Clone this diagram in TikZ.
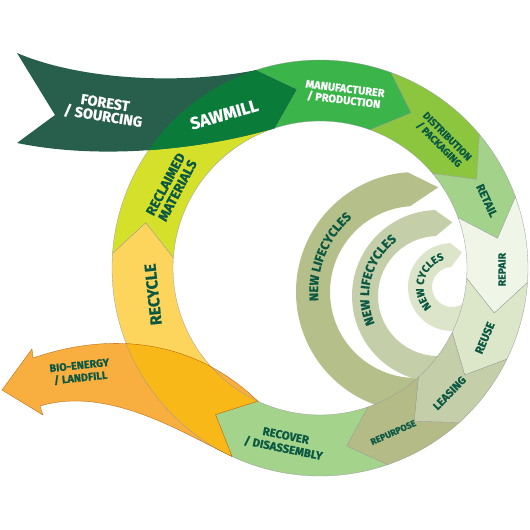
\documentclass[tikz,border=0pt]{standalone}
\usepackage{fontspec}
\setmainfont{Fira Sans}[BoldFeatures={FakeBold=0.6}]
\usetikzlibrary{decorations.text}

\definecolor{forest}{HTML}{285E4C}
\definecolor{sawmill}{HTML}{0B7B3A}
\definecolor{manuf}{HTML}{3BB54A}
\definecolor{distrib}{HTML}{8CC63F}
\definecolor{retail}{HTML}{A3D28B}
\definecolor{repair}{HTML}{EFF6E8}
\definecolor{reuse}{HTML}{DCE6C8}
\definecolor{leasing}{HTML}{C4CEA9}
\definecolor{repurpose}{HTML}{B4BB86}
\definecolor{recover}{HTML}{A4D48C}
\definecolor{recycle}{HTML}{FED55C}
\definecolor{golden}{HTML}{F8B918}
\definecolor{bioenergy}{HTML}{F9AE40}
\definecolor{reclaimed}{HTML}{D5E02A}
\definecolor{lifeA}{HTML}{B5BF89}
\definecolor{lifeB}{HTML}{C4CEA9}
\definecolor{lifeC}{HTML}{DCE5C9}
\definecolor{labelgreen}{HTML}{0B5843}

\def\rOut{208}
\def\rIn{147}
\def\rMid{180}
\def\tipShift{10.5}

\newcommand{\lblfont}[2]{\bfseries\fontsize{#1}{#2}\selectfont}

% ring segment: colour, start angle, end angle
\newcommand{\ringseg}[3]{%
  \filldraw[segline, fill=#1] (#2:\rOut) arc[start angle=#2, end angle=#3, radius=\rOut]
    -- ({#3-\tipShift}:\rMid) -- (#3:\rIn) arc[start angle=#3, end angle=#2, radius=\rIn]
    -- ({#2-\tipShift}:\rMid) -- cycle;}

% inner band: colour, centre, outer r, inner r, end angle, tip angle, tip r, hidden angle
\newcommand{\lifeband}[8]{%
  \fill[#1, shift={(#2)}] (#5:#3) arc[start angle=#5, end angle=#8, radius=#3]
    -- (#8:#4) arc[start angle=#8, end angle=#5, radius=#4] -- (#6:#7) -- cycle;}

\tikzset{
  segline/.style={draw=black!40, line width=0.3pt},
  lbl/.style={text=labelgreen, align=center, inner sep=0pt},
  lblw/.style={lbl, text=white},
  curvetext/.style={decorate, decoration={text along path, text align=center, text color=labelgreen, text={#1}}}
}

\begin{document}
\begin{tikzpicture}[x=1pt, y=1pt]
   \useasboundingbox (-320,-262) rectangle (210,268);

   % New lifecycles
   \lifeband{lifeA}{96,-24}{120}{86}{94}{78}{107}{285}
   \lifeband{lifeB}{118,-28}{86}{60}{92}{79}{75}{290}
   \lifeband{lifeC}{132,-19}{44}{20}{92}{74}{36}{330}

   % Ring
   \ringseg{reclaimed}{176}{108}
   \ringseg{recycle}{245}{176}
   \ringseg{manuf}{108}{70}
   \ringseg{distrib}{70}{40}
   \ringseg{retail}{40}{20}
   \ringseg{repair}{20}{-4}
   \ringseg{reuse}{-4}{-26}
   \ringseg{leasing}{-26}{-48}
   \ringseg{repurpose}{-48}{-71}
   \ringseg{recover}{-71}{-115}

   % Bio-energy arrow
   \def\bioarrow{(-115:\rIn) .. controls (-120,-77) and (-200,-60) .. (-287,-90)
      -- (-288,-81) -- (-318,-122) -- (-277,-147) -- (-280,-138)
      .. controls (-210,-117) and (-133,-167.5) .. (-115:\rOut) -- (-125.5:\rMid) -- cycle}
   \fill[bioenergy] \bioarrow;
   \begin{scope}
      \clip \bioarrow;
      \filldraw[golden, even odd rule, segline, fill=golden] (0,0) circle[radius=\rOut] (0,0) circle[radius=\rIn];
   \end{scope}
   \draw[draw=orange!70!black, line width=0.3pt] \bioarrow;

   % Forest banner
   \def\forestband{(-303,215) .. controls (-240,188) and (-140,183) .. (108:\rOut)
      -- (97.5:\rMid) -- (108:\rIn) .. controls (-120,118) and (-220,108) .. (-303,125)
      -- (-265,153) -- cycle}
   \fill[forest] \forestband;
   \begin{scope}
      \clip \forestband;
      \fill[sawmill, even odd rule] (0,0) circle[radius=\rOut] (0,0) circle[radius=\rIn];
   \end{scope}

   % Labels
   \node[lblw, rotate=-9, font=\lblfont{14.5}{13.5}] (forest) at (-216,158) {FOREST\\/ SOURCING};
   \node[lblw, rotate=16, font=\lblfont{17}{17}] (sawmill) at (122:181) {SAWMILL};
   \node[lblw, rotate=-7, font=\lblfont{11}{11.5}] (manuf) at (82:175) {MANUFACTURER\\/ PRODUCTION};
   \node[lbl, rotate=-45, font=\lblfont{10}{11.5}] (distrib) at (46:177) {DISTRIBUTION\\/ PACKAGING};
   \node[lbl, rotate=-65, font=\lblfont{11.5}{12}] (retail) at (22:180) {RETAIL};
   \node[lbl, rotate=90, font=\lblfont{10.5}{12}] (repair) at (-0.5:182) {REPAIR};
   \node[lbl, rotate=67, font=\lblfont{11.5}{12}] (reuse) at (-23:179) {REUSE};
   \node[lbl, rotate=46, font=\lblfont{11}{12}] (leasing) at (-44:180) {LEASING};
   \node[lbl, rotate=24, font=\lblfont{9}{10}] (repurpose) at (-66:180) {REPURPOSE};
   \node[lbl, rotate=-11.5, font=\lblfont{11.5}{13}] (recover) at (-101.5:178) {RECOVER\\/ DISASSEMBLY};
   \node[lbl, rotate=96, font=\lblfont{16}{16}] (recycle) at (189:169) {RECYCLE};
   \node[lbl, rotate=62, font=\lblfont{13.5}{13.5}] (reclaimed) at (151.5:169) {RECLAIMED\\MATERIALS};
   \node[lbl, rotate=6, font=\lblfont{10.8}{12.5}] (bio) at (-240,-104) {BIO-ENERGY\\/ LANDFILL};

   % Curved labels
   \path[curvetext={|\lblfont{12.5}{12.5}|NEW LIFECYCLES}] (96,-24) ++(200:98) arc[start angle=200, end angle=116, radius=98];
   \path[curvetext={|\lblfont{12.5}{12.5}|NEW LIFECYCLES}] (118,-28) ++(230:69) arc[start angle=230, end angle=100, radius=69];
   \path[curvetext={|\lblfont{10.5}{10.5}|NEW CYCLES}] (132,-19) ++(250:28.5) arc[start angle=250, end angle=80, radius=28.5];
\end{tikzpicture}
\end{document}
